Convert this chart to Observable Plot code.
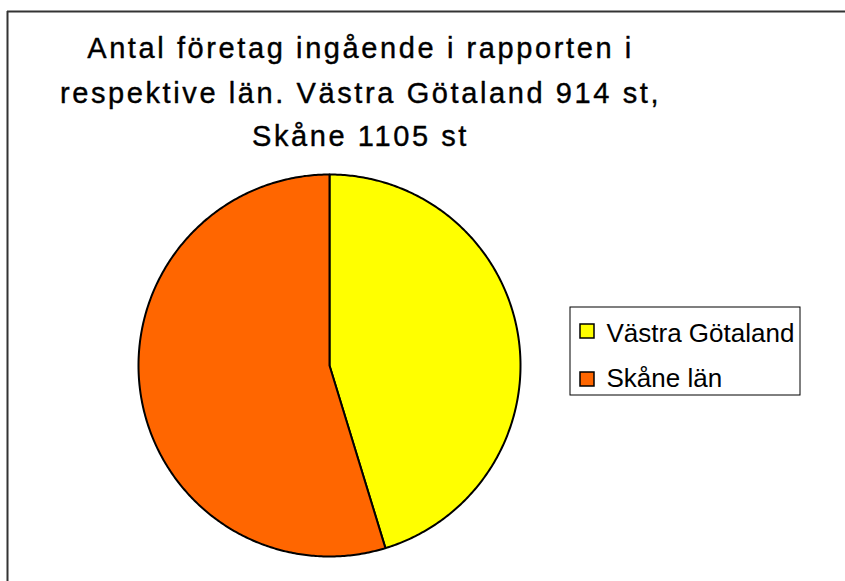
<!DOCTYPE html>
<html>
<head>
<meta charset="utf-8">
<script src="https://cdn.jsdelivr.net/npm/d3@7"></script>
<script src="https://cdn.jsdelivr.net/npm/@observablehq/plot@0.6"></script>
<style>
  html, body { margin: 0; padding: 0; background: #fff; }
  #chart svg { display: block; }
</style>
</head>
<body>
<div id="chart"></div>
<script>
// ---- data ----
const regions = ["Västra Götaland", "Skåne län"];
const counts = [914, 1105];
const colors = ["#FFFF00", "#FF6600"];
const titleLines = [
  "Antal företag ingående i rapporten i",
  "respektive län. Västra Götaland 914 st,",
  "Skåne 1105 st"
];

// ---- layout ----
const W = 845, H = 581;
const cx = 329, cy = 365, r = 191;

const slices = d3.pie().sort(null).startAngle(0).endAngle(2 * Math.PI)(counts);
const piePts = [];
slices.forEach((s, i) => {
  piePts.push({region: regions[i], x: cx, y: cy});
  const n = Math.max(2, Math.ceil((s.endAngle - s.startAngle) / 0.01));
  for (let k = 0; k <= n; k++) {
    const a = s.startAngle + (s.endAngle - s.startAngle) * k / n;
    piePts.push({region: regions[i], x: cx + r * Math.sin(a), y: cy - r * Math.cos(a)});
  }
  piePts.push({region: regions[i], x: cx, y: cy});
});

const legend = regions.map((name, i) => ({name, color: colors[i], i}));

const plot = Plot.plot({
  width: W, height: H,
  margin: 0,
  x: {domain: [0, W], range: [0, W], axis: null},
  y: {domain: [0, H], range: [0, H], axis: null},
  color: {domain: regions, range: colors},
  style: {fontFamily: "Liberation Sans, Arial, sans-serif", background: "#fff"},
  marks: [
    Plot.ruleX([7], {y1: 11, y2: H, stroke: "#333", strokeWidth: 2}),
    Plot.ruleY([11], {x1: 7, x2: W, stroke: "#333", strokeWidth: 2}),
    Plot.line(piePts, {x: "x", y: "y", z: "region", fill: "region", stroke: "#000", strokeWidth: 2, curve: "linear", strokeLinejoin: "round"}),
    // title
    Plot.text(titleLines, {x: 360, y: (d, i) => [48, 93, 136][i], text: d => d, fontSize: 29, fill: "#000", stroke: "#000", strokeWidth: 0.4}),
    // legend box
    Plot.rect([0], {x1: 570, x2: 800, y1: 307, y2: 395, fill: "#fff", stroke: "#000", strokeWidth: 1}),
    Plot.rect(legend, {x1: 580, x2: 594, y1: d => 324 + d.i * 48, y2: d => 338 + d.i * 48, fill: "name", stroke: "#000", strokeWidth: 1.5}),
    Plot.text(legend, {x: 606, y: d => 332.7 + d.i * 45, text: "name", textAnchor: "start", fontSize: 26, fill: "#000"})
  ]
});
document.getElementById("chart").appendChild(plot);
// letter spacing for title text
d3.select(plot).selectAll('g[aria-label="text"]').filter((d, i) => i === 0).attr("letter-spacing", "2.6px");
</script>
</body>
</html>
